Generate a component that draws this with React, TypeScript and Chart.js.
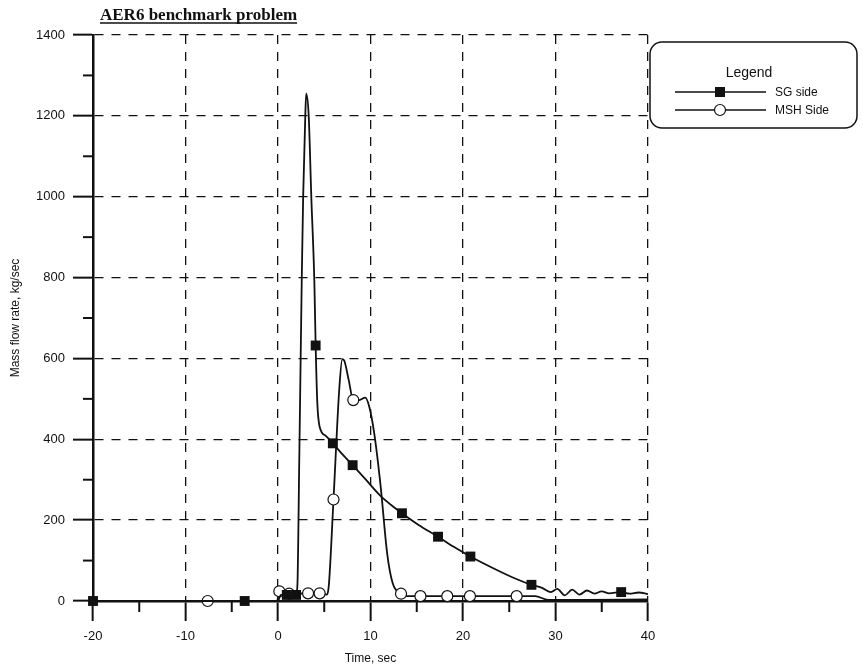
import React, { useEffect, useRef } from "react";
import { Chart, registerables } from "chart.js";

Chart.register(...registerables);

// ---- text ----
const TITLE = "AER6 benchmark problem";
const X_LABEL = "Time, sec";
const Y_LABEL = "Mass flow rate, kg/sec";
const LEGEND_TITLE = "Legend";
const SERIES_NAMES = ["SG side", "MSH Side"];

// ---- axes ----
const X_MIN = -20;
const X_MAX = 40;
const X_STEP = 10;
const X_MINOR = 5;
const Y_MIN = 0;
const Y_MAX = 1400;
const Y_STEP = 200;
const Y_MINOR = 100;

// ---- SG side (time s, flow kg/s, marker flag) ----
const sgTime = [
  -20, -3.6, 0, 0.3, 0.95, 1.5, 1.95, 2.1, 2.3, 2.57, 2.72, 2.95, 3.05, 3.32, 3.6, 3.93,
  4.07, 4.25, 4.5, 5.2, 5.93, 7.0, 8.07, 9.5, 11.0, 12.2, 13.4, 15.2, 17.3, 19.0, 20.8,
  23.0, 25.2, 27.4, 28.6, 29.5, 30.2, 31.0, 31.8, 32.6, 33.4, 34.2, 35.0, 35.8, 37.1,
  38.0, 39.0, 40.0,
];
const sgFlow = [
  0, 0, 0, 15, 15, 14, 15, 40, 350, 800, 1000, 1200, 1255, 1200, 1000, 790,
  632, 490, 431, 408, 390, 362, 336, 300, 262, 238, 217, 188, 159, 134, 110,
  84, 60, 40, 32, 22, 30, 14, 28, 16, 26, 18, 24, 19, 22,
  18, 21, 17,
];
const sgMark = [
  1, 1, 0, 0, 1, 0, 1, 0, 0, 0, 0, 0, 0, 0, 0, 0,
  1, 0, 0, 0, 1, 0, 1, 0, 0, 0, 1, 0, 1, 0, 1,
  0, 0, 1, 0, 0, 0, 0, 0, 0, 0, 0, 0, 0, 1,
  0, 0, 0,
];

// ---- MSH side ----
const mshTime = [
  -20, -7.6, -0.1, 0.14, 0.6, 1.2, 2.0, 3.25, 4.5, 5.3, 5.5, 6.0, 6.64, 6.95, 7.15,
  7.64, 8.14, 8.8, 9.43, 9.86, 10.4, 11.1, 11.8, 12.4, 13.3, 14.0, 15.4, 18.3, 20.75,
  25.8, 27.8, 29.2, 33.0, 40.0,
];
const mshFlow = [
  0, 0, 0, 24, 20, 18, 18, 19, 19, 16, 40, 251, 530, 598, 595,
  547, 497, 497, 503, 481, 415, 283, 118, 44, 18, 12, 12, 12, 12,
  12, 12, 3, 3, 4,
];
const mshMark = [
  0, 1, 0, 1, 0, 1, 0, 1, 1, 0, 0, 1, 0, 0, 0,
  0, 1, 0, 0, 0, 0, 0, 0, 0, 1, 0, 1, 1, 1,
  1, 0, 0, 0, 0,
];

const INK = "#111";
const FONT = '"Liberation Sans", Arial, sans-serif';

const toPoints = (t: number[], v: number[]) => t.map((tt, i) => ({ x: tt, y: v[i] }));

const drawSquare = (ctx: CanvasRenderingContext2D, cx: number, cy: number, s: number) => {
  ctx.fillStyle = INK;
  ctx.fillRect(cx - s / 2, cy - s / 2, s, s);
};
const drawCircle = (ctx: CanvasRenderingContext2D, cx: number, cy: number, r: number) => {
  ctx.beginPath();
  ctx.arc(cx, cy, r, 0, Math.PI * 2);
  ctx.fillStyle = "#fff";
  ctx.fill();
  ctx.lineWidth = 1.2;
  ctx.strokeStyle = INK;
  ctx.stroke();
};

const decorPlugin = {
  id: "decor",
  afterDraw(chart: any) {
    const { ctx, chartArea, scales } = chart;
    const x = scales.x;
    const y = scales.y;
    const line = (x1: number, y1: number, x2: number, y2: number) => {
      ctx.beginPath();
      ctx.moveTo(x1, y1);
      ctx.lineTo(x2, y2);
      ctx.stroke();
    };
    ctx.save();
    ctx.setLineDash([]);
    // minor ticks
    ctx.strokeStyle = INK;
    ctx.lineWidth = 2;
    for (let v = X_MIN + X_MINOR; v < X_MAX; v += X_STEP) {
      const px = x.getPixelForValue(v);
      line(px, chartArea.bottom, px, chartArea.bottom + 11);
    }
    for (let v = Y_MIN + Y_MINOR; v < Y_MAX; v += Y_STEP) {
      const py = y.getPixelForValue(v);
      line(chartArea.left - 10, py, chartArea.left, py);
    }
    // title (underlined)
    ctx.font = 'bold 17px "Liberation Serif", "Times New Roman", serif';
    ctx.fillStyle = INK;
    ctx.textAlign = "left";
    ctx.textBaseline = "alphabetic";
    ctx.fillText(TITLE, 100, 20);
    const tw = ctx.measureText(TITLE).width;
    ctx.lineWidth = 1.5;
    line(100, 23, 100 + tw, 23);

    // legend box
    const bx = 650, by = 42, bw = 207, bh = 86, r = 12;
    ctx.beginPath();
    ctx.moveTo(bx + r, by);
    ctx.lineTo(bx + bw - r, by);
    ctx.arcTo(bx + bw, by, bx + bw, by + r, r);
    ctx.lineTo(bx + bw, by + bh - r);
    ctx.arcTo(bx + bw, by + bh, bx + bw - r, by + bh, r);
    ctx.lineTo(bx + r, by + bh);
    ctx.arcTo(bx, by + bh, bx, by + bh - r, r);
    ctx.lineTo(bx, by + r);
    ctx.arcTo(bx, by, bx + r, by, r);
    ctx.closePath();
    ctx.lineWidth = 1.5;
    ctx.strokeStyle = INK;
    ctx.stroke();

    ctx.font = `14px ${FONT}`;
    ctx.textAlign = "center";
    ctx.textBaseline = "middle";
    ctx.fillStyle = INK;
    ctx.fillText(LEGEND_TITLE, 749, 73);

    const rows = [92, 110];
    ctx.font = `12px ${FONT}`;
    ctx.textAlign = "left";
    rows.forEach((ry, i) => {
      ctx.lineWidth = 1.5;
      ctx.strokeStyle = INK;
      line(675, ry, 766, ry);
      if (i === 0) drawSquare(ctx, 720, ry, 10);
      else drawCircle(ctx, 720, ry, 5.5);
      ctx.fillStyle = INK;
      ctx.fillText(SERIES_NAMES[i], 775, ry + 1);
    });
    ctx.restore();
  },
};

export default function App() {
  const ref = useRef<HTMLCanvasElement | null>(null);
  useEffect(() => {
    if (!ref.current) return;
    const chart = new Chart(ref.current, {
      type: "line",
      data: {
        datasets: [
          {
            label: SERIES_NAMES[0],
            data: toPoints(sgTime, sgFlow),
            borderColor: INK,
            borderWidth: 1.8,
            backgroundColor: INK,
            pointStyle: "rect",
            pointRadius: sgMark.map((m) => (m ? 7 : 0)),
            pointBorderWidth: 0,
            pointBackgroundColor: INK,
            cubicInterpolationMode: "monotone",
            clip: false,
          } as any,
          {
            label: SERIES_NAMES[1],
            data: toPoints(mshTime, mshFlow),
            borderColor: INK,
            borderWidth: 1.8,
            pointStyle: "circle",
            pointRadius: mshMark.map((m) => (m ? 5.5 : 0)),
            pointBorderWidth: 1.2,
            pointBorderColor: INK,
            pointBackgroundColor: "#fff",
            cubicInterpolationMode: "monotone",
            clip: false,
          } as any,
        ],
      },
      options: {
        responsive: false,
        animation: false,
        devicePixelRatio: 1,
        layout: { padding: { top: 35, right: 215, left: 0, bottom: 0 } },
        plugins: { legend: { display: false }, tooltip: { enabled: false }, title: { display: false } },
        scales: {
          x: {
            type: "linear",
            min: X_MIN,
            max: X_MAX,
            afterFit: (s: any) => {
              s.height = 65;
            },
            ticks: {
              stepSize: X_STEP,
              padding: 8,
              color: INK,
              font: { family: FONT, size: 13 },
              callback: (v: any) => String(v),
            },
            grid: { color: INK, lineWidth: 1.3, tickLength: 20, tickWidth: 2, tickColor: INK },
            border: { display: true, color: INK, width: 2.5, dash: [9, 8] },
            title: {
              display: true,
              text: X_LABEL,
              color: INK,
              font: { family: FONT, size: 12 },
              padding: { top: 4, bottom: 0 },
            },
          },
          y: {
            type: "linear",
            min: Y_MIN,
            max: Y_MAX,
            afterFit: (s: any) => {
              s.width = 93;
            },
            ticks: {
              stepSize: Y_STEP,
              padding: 8,
              color: INK,
              font: { family: FONT, size: 13 },
              callback: (v: any) => String(v),
            },
            grid: { color: INK, lineWidth: 1.3, tickLength: 20, tickWidth: 2, tickColor: INK },
            border: { display: true, color: INK, width: 2.5, dash: [9, 8] },
            title: {
              display: true,
              text: Y_LABEL,
              color: INK,
              font: { family: FONT, size: 12 },
              padding: { top: 8, bottom: 0 },
            },
          },
        },
      },
      plugins: [decorPlugin],
    } as any);
    return () => chart.destroy();
  }, []);
  return (
    <div style={{ position: "absolute", left: 0, top: 0, width: 863, height: 666, background: "#fff" }}>
      <canvas ref={ref} width={863} height={666} style={{ width: 863, height: 666, display: "block" }} />
    </div>
  );
}
